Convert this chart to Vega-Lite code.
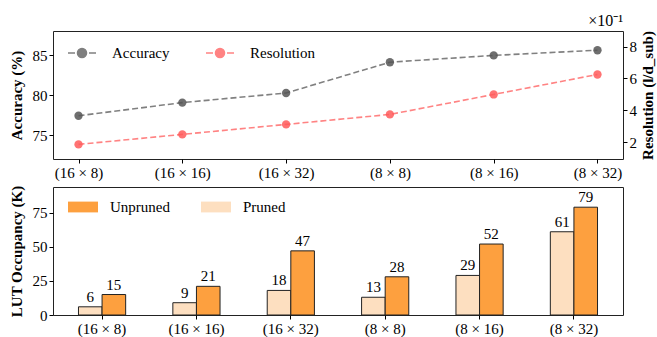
{
  "$schema": "https://vega.github.io/schema/vega-lite/v6.json",
  "padding": {"left": 8, "top": 12, "right": 2, "bottom": 0},
  "spacing": 3,
  "resolve": {"scale": {"color": "independent"}, "legend": {"color": "independent"}},
  "config": {
    "font": "Liberation Serif",
    "view": {"stroke": "#222222", "strokeWidth": 1},
    "axis": {
      "labelFont": "Liberation Serif", "labelFontSize": 15, "labelColor": "black",
      "titleFont": "Liberation Serif", "titleFontSize": 15, "titleFontWeight": "bold", "titleColor": "black",
      "tickColor": "black", "tickSize": 4, "domain": false, "grid": false, "labelPadding": 2
    },
    "legend": {"labelFont": "Liberation Serif", "labelFontSize": 15, "labelColor": "black"}
  },
  "datasets": {
    "top": [
      {"cfg": "(16 × 8)", "acc": 77.4, "res": 1.875},
      {"cfg": "(16 × 16)", "acc": 79.05, "res": 2.5},
      {"cfg": "(16 × 32)", "acc": 80.25, "res": 3.125},
      {"cfg": "(8 × 8)", "acc": 84.1, "res": 3.75},
      {"cfg": "(8 × 16)", "acc": 84.95, "res": 5.0},
      {"cfg": "(8 × 32)", "acc": 85.6, "res": 6.25}
    ],
    "bars": [
      {"cfg": "(16 × 8)", "kind": "Pruned", "val": 6},
      {"cfg": "(16 × 8)", "kind": "Unpruned", "val": 15},
      {"cfg": "(16 × 16)", "kind": "Pruned", "val": 9},
      {"cfg": "(16 × 16)", "kind": "Unpruned", "val": 21},
      {"cfg": "(16 × 32)", "kind": "Pruned", "val": 18},
      {"cfg": "(16 × 32)", "kind": "Unpruned", "val": 47},
      {"cfg": "(8 × 8)", "kind": "Pruned", "val": 13},
      {"cfg": "(8 × 8)", "kind": "Unpruned", "val": 28},
      {"cfg": "(8 × 16)", "kind": "Pruned", "val": 29},
      {"cfg": "(8 × 16)", "kind": "Unpruned", "val": 52},
      {"cfg": "(8 × 32)", "kind": "Pruned", "val": 61},
      {"cfg": "(8 × 32)", "kind": "Unpruned", "val": 79}
    ]
  },
  "vconcat": [
    {
      "width": 570,
      "height": 128,
      "title": {"text": "×10⁻¹", "anchor": "end", "frame": "group", "fontSize": 16, "fontWeight": "normal", "font": "Liberation Serif", "offset": 2, "color": "black"},
      "data": {"name": "top"},
      "encoding": {
        "x": {"field": "cfg", "type": "ordinal", "sort": null, "scale": {"type": "point", "padding": 0.246}, "axis": {"title": null, "labelAngle": 0, "labelPadding": 2}}
      },
      "layer": [
        {
          "encoding": {
            "y": {"field": "acc", "type": "quantitative", "scale": {"domain": [72, 88]}, "axis": {"values": [75, 80, 85], "title": "Accuracy (%)", "titlePadding": 8}},
            "color": {
              "datum": "Accuracy",
              "scale": {"domain": ["Accuracy", "Resolution"], "range": ["#555555", "#ff5a5a"]},
              "legend": {
                "title": null, "orient": "none", "legendX": 14, "legendY": 7, "direction": "horizontal", "padding": 0,
                "symbolType": "M-1,0H-0.5M-0.3,0H0.3M0.5,0H1M0.32,0A0.32,0.32,0,1,1,-0.32,0A0.32,0.32,0,1,1,0.32,0Z",
                "symbolSize": 784, "symbolStrokeWidth": 1.6, "labelOffset": 15, "columnPadding": 32,
                "encode": {"symbols": {"update": {"fill": {"scale": "color", "field": "value"}, "stroke": {"scale": "color", "field": "value"}, "opacity": {"value": 0.75}}}}
              }
            }
          },
          "layer": [
            {"mark": {"type": "line", "strokeDash": [6, 3], "strokeWidth": 1.6, "opacity": 0.75}},
            {"mark": {"type": "point", "filled": true, "size": 70, "opacity": 0.85}}
          ]
        },
        {
          "encoding": {
            "y": {"field": "res", "type": "quantitative", "scale": {"domain": [0.96, 8.97]}, "axis": {"orient": "right", "values": [2, 4, 6, 8], "title": "Resolution (l/d_sub)", "titleAngle": 270, "titleBaseline": "top", "titlePadding": 4}},
            "color": {"datum": "Resolution"}
          },
          "layer": [
            {"mark": {"type": "line", "strokeDash": [6, 3], "strokeWidth": 1.6, "opacity": 0.75}},
            {"mark": {"type": "point", "filled": true, "size": 70, "opacity": 0.85}}
          ]
        }
      ],
      "resolve": {"scale": {"y": "independent"}}
    },
    {
      "width": 570,
      "height": 128,
      "data": {"name": "bars"},
      "encoding": {
        "x": {"field": "cfg", "type": "nominal", "sort": null, "scale": {"type": "band", "paddingInner": 0.5, "paddingOuter": 0.27}, "axis": {"title": null, "labelAngle": 0, "bandPosition": 0.5, "labelPadding": 2}},
        "xOffset": {"field": "kind", "type": "nominal", "sort": ["Pruned", "Unpruned"], "scale": {"domain": ["Pruned", "Unpruned"], "paddingInner": 0, "paddingOuter": 0}},
        "y": {"field": "val", "type": "quantitative", "scale": {"domain": [0, 93.8]}, "axis": {"values": [0, 25, 50, 75], "title": "LUT Occupancy (K)", "titlePadding": 8}}
      },
      "layer": [
        {
          "mark": {"type": "bar", "stroke": "#222222", "strokeWidth": 1},
          "encoding": {
            "color": {
              "field": "kind", "type": "nominal",
              "scale": {"domain": ["Unpruned", "Pruned"], "range": ["#fda03f", "#fddfc0"]},
              "legend": {
                "title": null, "orient": "none", "legendX": 15, "legendY": 5, "direction": "horizontal", "padding": 0,
                "symbolType": "M-1,-0.36H1V0.36H-1Z", "symbolSize": 900, "symbolStrokeWidth": 0,
                "labelOffset": 12, "columnPadding": 31
              }
            }
          }
        },
        {
          "mark": {"type": "text", "baseline": "bottom", "dy": -2, "fontSize": 15, "font": "Liberation Serif", "color": "black"},
          "encoding": {"text": {"field": "val", "type": "quantitative"}}
        }
      ]
    }
  ]
}
